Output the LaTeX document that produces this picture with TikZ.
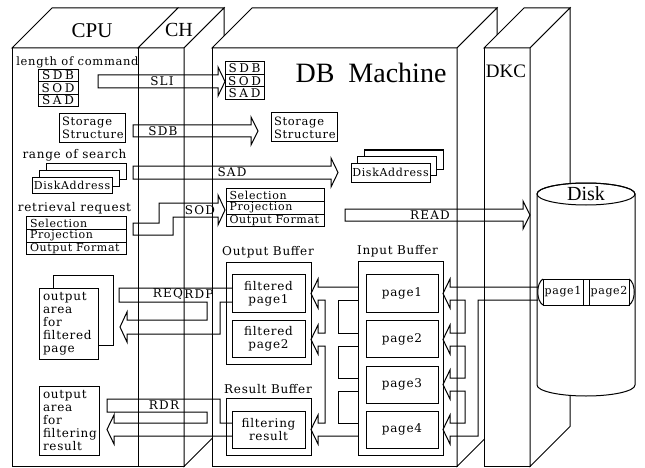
\documentclass[tikz,border=0pt]{standalone}
\usepackage{fontspec}
\setmainfont{DejaVu Serif}[LetterSpace=6]
\newfontfamily\titlefont{Liberation Serif}
\newfontfamily\capsfont[LetterSpace=22]{DejaVu Serif}
\newfontfamily\tagfont[LetterSpace=10]{DejaVu Serif}
\usetikzlibrary{positioning}

\begin{document}
\begin{tikzpicture}[x=1pt,y=-1pt,line width=1pt,
    slab/.style={draw,fill=white,line join=miter},
    title/.style={font=\titlefont\fontsize{20}{20}\selectfont,inner sep=0pt},
    lbl/.style={font=\fontsize{12}{13}\selectfont,inner sep=0pt},
    cell/.style={draw,outer sep=0pt,inner sep=0pt,minimum height=12.5pt,font=\capsfont\fontsize{12}{12}\selectfont},
    row/.style={draw,outer sep=0pt,inner xsep=4pt,inner ysep=0pt,minimum height=12.67pt,text width=92pt,align=left,font=\fontsize{11}{12}\selectfont},
    box/.style={draw,fill=white,outer sep=0pt,inner sep=1pt,font=\fontsize{12}{13}\selectfont},
    tag/.style={font=\tagfont\fontsize{12}{12}\selectfont,inner sep=0pt},
    pipe/.style={line join=miter}
]
\useasboundingbox (0,0) rectangle (645,468);

% CPU slab
\draw[slab] (12,48) rectangle (138,466.5);
\draw[slab] (12,48) -- (52,8) -- (178,8) -- (138,48) -- cycle;
% CH slab
\draw[slab] (138,48) rectangle (184,466.5);
\draw[slab] (138,48) -- (178,8) -- (224,8) -- (184,48) -- cycle;
\draw[slab] (184,48) -- (224,8) -- (224,426.5) -- (184,466.5) -- cycle;
% DB Machine slab
\draw[slab] (212,48) rectangle (457,466.5);
\draw[slab] (212,48) -- (252,8) -- (497,8) -- (457,48) -- cycle;
\draw[slab] (457,48) -- (497,8) -- (497,426.5) -- (457,466.5) -- cycle;
% DKC slab
\draw[slab] (484,48) rectangle (530,466.5);
\draw[slab] (484,48) -- (524,8) -- (570,8) -- (530,48) -- cycle;
\draw[slab] (530,48) -- (570,8) -- (570,426.5) -- (530,466.5) -- cycle;

\node[title,font=\titlefont\fontsize{21}{21}\selectfont] (cpu) at (92,31) {CPU};
\node[title] (ch) at (179,30) {CH};
\node[title,font=\titlefont\fontsize{19}{19}\selectfont] (dkc) at (506,71) {DKC};
\node[title,font=\titlefont\fontsize{28}{28}\selectfont] (dbm) at (371,73) {DB\ \ Machine};

% Disk
\draw[fill=white] (537,194) -- (537,385) arc[start angle=180,end angle=0,x radius=49,y radius=11]
    -- (635,194) arc[start angle=0,end angle=-180,x radius=49,y radius=11] -- cycle;
\draw (586,194) ellipse[x radius=49,y radius=11];
\node[title] (disk) at (586,194) {Disk};
\node[draw,outer sep=0pt,minimum width=40pt,minimum height=26pt,lbl,font=\fontsize{11}{12}\selectfont] (d-page1) at (563,292) {page1};
\node[draw,outer sep=0pt,minimum width=40pt,minimum height=26pt,lbl,font=\fontsize{11}{12}\selectfont] (d-page2) at (609,292) {page2};
\draw (d-page1.north east) -- (d-page2.north west) (d-page1.south east) -- (d-page2.south west);
\draw (d-page1.north west) .. controls +(-7,4) and +(-7,-4) .. (d-page1.south west);
\draw (d-page2.north east) .. controls +(7,4) and +(7,-4) .. (d-page2.south east);

% CPU contents
\node[lbl,font=\fontsize{11.5}{13}\selectfont] (c-len) at (77.5,62) {length of command};
\node[cell,minimum width=40pt] (c-sdb) at (58,75.3) {SDB};
\node[cell,minimum width=40pt,below=0pt of c-sdb] (c-sod) {SOD};
\node[cell,minimum width=40pt,below=0pt of c-sod] (c-sad) {SAD};
\node[box,minimum height=29pt,text width=60pt,inner xsep=3pt,align=left,font=\fontsize{11.5}{13}\selectfont] (c-store) at (92,128) {Storage\\Structure};
\node[lbl] (c-range) at (74.5,155) {range of search};
\node[box,minimum width=80pt,minimum height=16pt] (c-addr3) at (86,171) {};
\node[box,minimum width=80pt,minimum height=16pt] (c-addr2) at (79,178) {};
\node[box,minimum width=80pt,minimum height=16pt,font=\fontsize{11}{12}\selectfont] (c-addr1) at (72,185) {DiskAddress};
\node[lbl] (c-retr) at (74.5,208) {retrieval request};
\node[row] (c-sel) at (76,223.3) {Selection};
\node[row,below=0pt of c-sel] (c-proj) {Projection};
\node[row,below=0pt of c-proj] (c-fmt) {\mbox{Output Format}};
\node[box,minimum width=60pt,minimum height=70pt] (c-fout-b) at (83,310) {};
\node[box,text width=51pt,inner xsep=4pt,minimum height=71pt,align=left] (c-fout) at (68.5,323.5) {output\\area\\for\\filtered\\page};
\node[box,text width=52pt,inner xsep=4pt,minimum height=69pt,align=left] (c-rout) at (69,420.5) {output\\area\\for\\filtering\\result};

% DB Machine contents
\node[cell,minimum width=39pt] (m-sdb) at (244.5,68.2) {SDB};
\node[cell,minimum width=39pt,below=0pt of m-sdb] (m-sod) {SOD};
\node[cell,minimum width=39pt,below=0pt of m-sod] (m-sad) {SAD};
\node[box,minimum height=29pt,text width=60pt,inner xsep=3pt,align=left,font=\fontsize{11.5}{13}\selectfont] (m-store) at (304,127.5) {Storage\\Structure};
\node[box,minimum width=79pt,minimum height=19pt] (m-addr3) at (403.5,159.5) {};
\node[box,minimum width=79pt,minimum height=19pt] (m-addr2) at (397,166) {};
\node[box,minimum width=79pt,minimum height=19pt,font=\fontsize{11}{12}\selectfont] (m-addr1) at (390.5,172.5) {DiskAddress};
\node[row,text width=91pt,inner xsep=3.5pt] (m-sel) at (275,195.3) {Selection};
\node[row,text width=91pt,inner xsep=3.5pt,below=0pt of m-sel] (m-proj) {Projection};
\node[row,text width=91pt,inner xsep=3.5pt,below=0pt of m-proj] (m-fmt) {\mbox{Output Format}};

\node[lbl] (ob-lbl) at (268,252) {Output Buffer};
\node[box,minimum width=85pt,minimum height=102pt] (ob) at (268.5,313) {};
\node[box,minimum width=73pt,minimum height=38pt,align=center] (ob-p1) at (268.5,293.5) {filtered\\page1};
\node[box,minimum width=73pt,minimum height=37pt,align=center] (ob-p2) at (268.5,339) {filtered\\page2};
\node[lbl] (rb-lbl) at (268,389) {Result Buffer};
\node[box,minimum width=85pt,minimum height=57pt] (rb) at (268.5,426.5) {};
\node[box,minimum width=73pt,minimum height=37pt,align=center] (rb-res) at (268.5,429.5) {filtering\\result};

\node[lbl] (ib-lbl) at (397.5,251) {Input Buffer};
\node[box,minimum width=85pt,minimum height=194pt] (ib) at (400.5,358) {};
\node[box,minimum width=72pt,minimum height=38pt] (ib-p1) at (402,293) {page1};
\node[box,minimum width=72pt,minimum height=37pt] (ib-p2) at (402,339) {page2};
\node[box,minimum width=72pt,minimum height=37pt] (ib-p3) at (402,384.5) {page3};
\node[box,minimum width=72pt,minimum height=37pt] (ib-p4) at (402,429.5) {page4};

% CPU to DB Machine
\draw[pipe] (98,75) -- (218,75) -- (218,67) -- (225,81.5) -- (218,96) -- (218,88) -- (98,88) -- cycle;
\draw[pipe] (133,125) -- (251,125) -- (251,117) -- (258,131) -- (251,145) -- (251,137) -- (133,137) -- cycle;
\draw[pipe] (133,166) -- (331,166) -- (331,158) -- (338,172.5) -- (331,187) -- (331,179) -- (133,179) -- cycle;
\draw[pipe] (133,223) -- (159,223) -- (159,203) -- (218,203) -- (218,195) -- (225,210) -- (218,225)
    -- (218,217) -- (173,217) -- (173,235) -- (133,235) -- cycle;
\node[tag] (t-sli) at (162,81.5) {SLI};
\node[tag] (t-sdb) at (163,131) {SDB};
\node[tag] (t-sad) at (232,172.5) {SAD};
\node[tag] (t-sod) at (200,210) {SOD};

% DB Machine to CPU
\draw[pipe] (232,288) -- (119,288) -- (119,302) -- (207,302) -- (207,320) -- (127,320) -- (127,312)
    -- (120,327) -- (127,342) -- (127,334) -- (220,334) -- (220,302) -- (232,302);
\draw[pipe] (232,423) -- (220,423) -- (220,399) -- (107,399) -- (107,412) -- (207,412) -- (207,423)
    -- (114,423) -- (114,415) -- (107,429.5) -- (114,444) -- (114,436) -- (232,436);
\node[tag] (t-req) at (168,294.5) {REQ};
\node[tag] (t-rdp) at (199,294.5) {RDP};
\node[tag] (t-rdr) at (164,405.5) {RDR};

% READ
\draw[pipe] (345,209) -- (523,209) -- (523,201) -- (530,215) -- (523,229) -- (523,221) -- (345,221) -- cycle;
\node[tag] (t-read) at (430,215) {READ};

% Input Buffer to Output / Result Buffer
\draw[pipe] (358,287) -- (318,287) -- (318,279) -- (311,293.5) -- (318,308) -- (318,300) -- (325,300)
    -- (325,333) -- (318,333) -- (318,325) -- (311,339.5) -- (318,354) -- (318,346) -- (325,346)
    -- (325,423) -- (318,423) -- (318,415) -- (311,429.5) -- (318,444) -- (318,436) -- (358,436);
\draw[pipe] (358,300) -- (338,300) -- (338,333) -- (358,333);
\draw[pipe] (358,346) -- (338,346) -- (338,378) -- (358,378);
\draw[pipe] (358,391) -- (338,391) -- (338,423) -- (358,423);

% Disk to Input Buffer
\draw[pipe] (538,287) -- (450,287) -- (450,279) -- (443,293.5) -- (450,308) -- (450,300) -- (465,300)
    -- (465,333) -- (450,333) -- (450,325) -- (443,339.5) -- (450,354) -- (450,346) -- (465,346)
    -- (465,378) -- (450,378) -- (450,370) -- (443,384.5) -- (450,399) -- (450,391) -- (465,391)
    -- (465,423) -- (450,423) -- (450,415) -- (443,429.5) -- (450,444) -- (450,436) -- (478,436)
    -- (478,300) -- (538,300);

\end{tikzpicture}
\end{document}
